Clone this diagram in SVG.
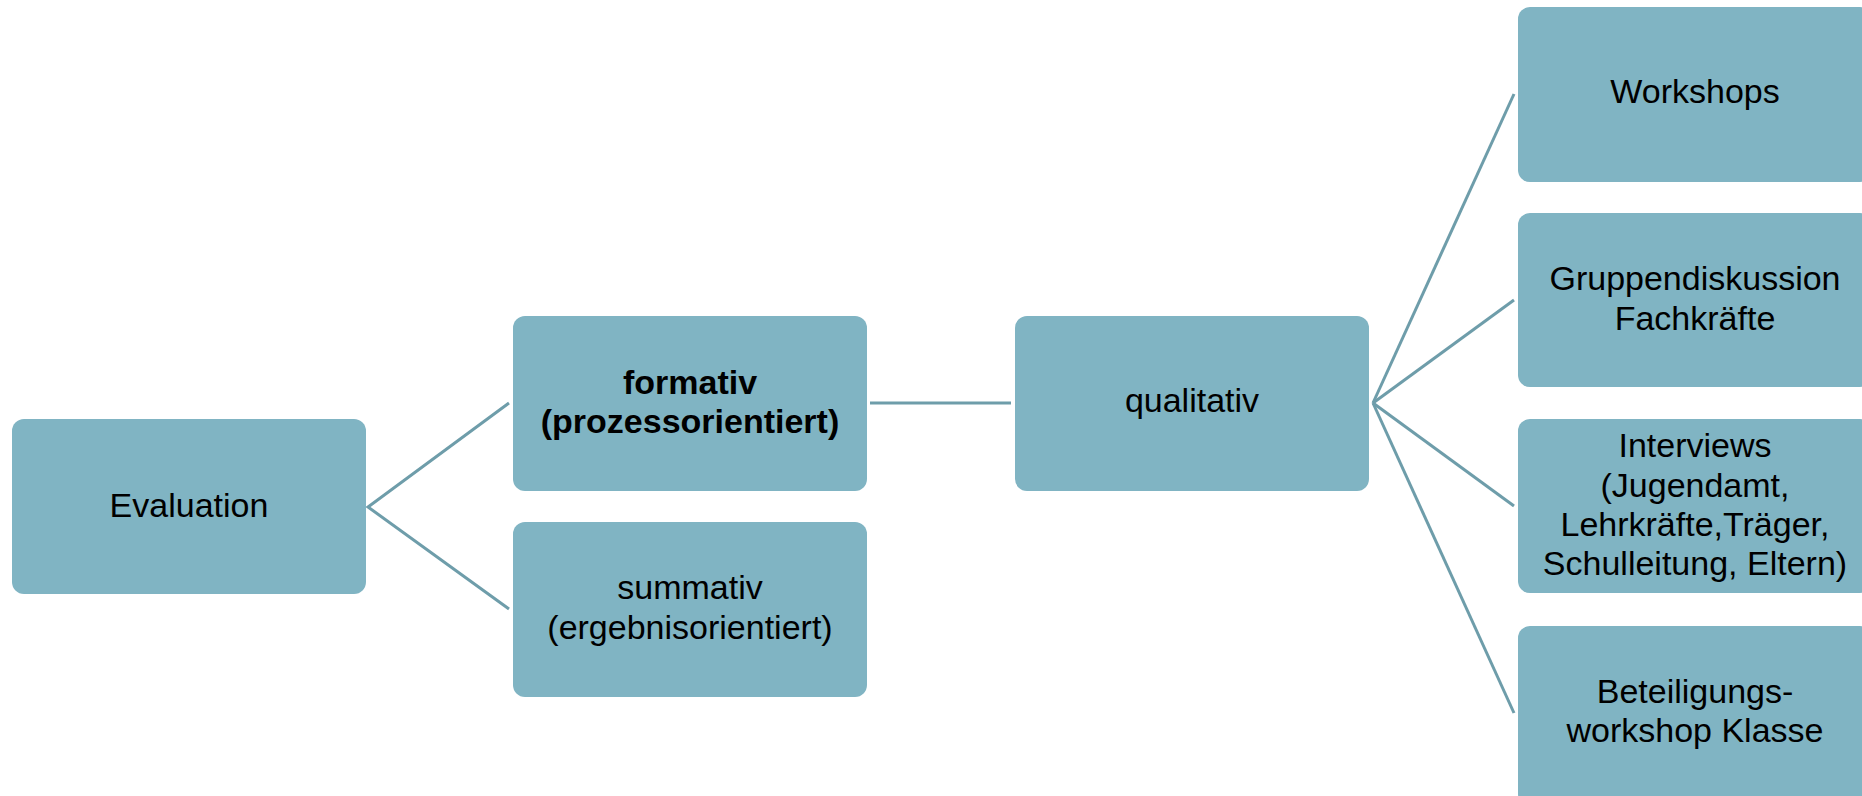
<svg xmlns="http://www.w3.org/2000/svg" width="1862" height="796" viewBox="0 0 1862 796">
<style>
.box{fill:#80B4C3;}
.lbl{font-family:"Liberation Sans",Arial,sans-serif;font-size:34px;fill:#000;text-anchor:middle;}
.b{font-weight:bold;}
.con{stroke:#6E9DAA;stroke-width:3;fill:none;}
</style>
<rect width="1862" height="796" fill="#fff"/>
<g id="connectors">
<polyline class="con" points="509,403 368,507 509,609"/>
<line class="con" x1="870" y1="403" x2="1011" y2="403"/>
<line class="con" x1="1373" y1="403" x2="1514" y2="94"/>
<line class="con" x1="1373" y1="403" x2="1514" y2="300"/>
<line class="con" x1="1373" y1="403" x2="1514" y2="506"/>
<line class="con" x1="1373" y1="403" x2="1514" y2="713"/>
</g>
<g id="evaluation">
<rect class="box" x="12" y="419" width="354" height="175" rx="12"/>
<text class="lbl" x="189" y="517">Evaluation</text>
</g>
<g id="formativ">
<rect class="box" x="513" y="316" width="354" height="175" rx="12"/>
<text class="lbl b" x="690" y="394">formativ</text>
<text class="lbl b" x="690" y="433">(prozessorientiert)</text>
</g>
<g id="summativ">
<rect class="box" x="513" y="522" width="354" height="175" rx="12"/>
<text class="lbl" x="690" y="599">summativ</text>
<text class="lbl" x="690" y="639">(ergebnisorientiert)</text>
</g>
<g id="qualitativ">
<rect class="box" x="1015" y="316" width="354" height="175" rx="12"/>
<text class="lbl" x="1192" y="412">qualitativ</text>
</g>
<g id="workshops">
<rect class="box" x="1518" y="7" width="354" height="175" rx="12"/>
<text class="lbl" x="1695" y="103">Workshops</text>
</g>
<g id="gruppendiskussion">
<rect class="box" x="1518" y="213" width="354" height="174" rx="12"/>
<text class="lbl" x="1695" y="290">Gruppendiskussion</text>
<text class="lbl" x="1695" y="330">Fachkräfte</text>
</g>
<g id="interviews">
<rect class="box" x="1518" y="419" width="354" height="174" rx="12"/>
<text class="lbl" x="1695" y="457">Interviews</text>
<text class="lbl" x="1695" y="497">(Jugendamt,</text>
<text class="lbl" x="1695" y="536">Lehrkräfte,Träger,</text>
<text class="lbl" x="1695" y="575">Schulleitung, Eltern)</text>
</g>
<g id="beteiligung">
<rect class="box" x="1518" y="626" width="354" height="180" rx="12"/>
<text class="lbl" x="1695" y="703">Beteiligungs-</text>
<text class="lbl" x="1695" y="742">workshop Klasse</text>
</g>
</svg>
